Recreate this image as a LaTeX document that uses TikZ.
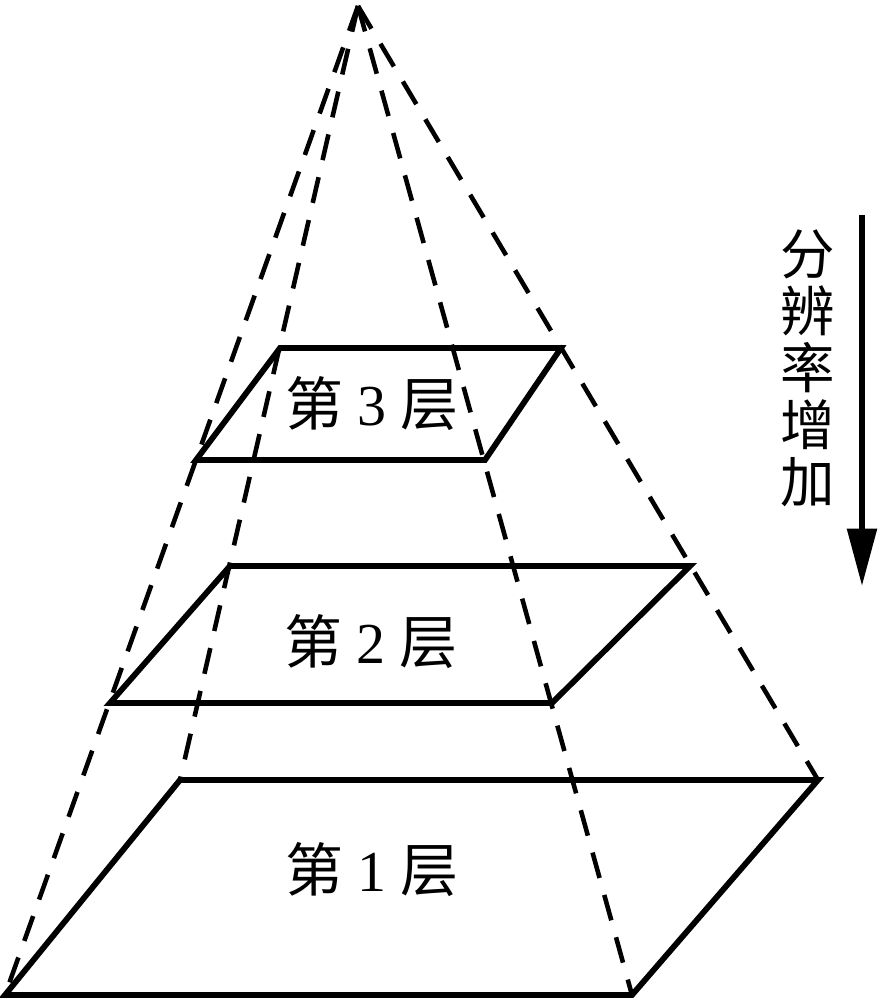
\documentclass[tikz,border=0pt]{standalone}
\usepackage{fontspec}
\setmainfont{Liberation Serif}
\newfontfamily\cjk{Noto Sans CJK SC}
\usetikzlibrary{arrows.meta}
\begin{document}
\begin{tikzpicture}[x=0.02cm,y=-0.02cm,
  solidedge/.style={line width=3.3pt, line join=miter},
  hidden/.style={line width=2.6pt, dash pattern=on 15pt off 10pt},
  lbl/.style={font=\fontsize{33}{38}\selectfont, inner sep=0pt},
  vlbl/.style={font=\cjk\fontsize{31}{32.4}\selectfont, align=center, inner sep=0pt}]
\useasboundingbox (0,0) rectangle (881,1001);
% apex and base
\coordinate (A) at (358,6);
\coordinate (BL) at (5,995);
\coordinate (BR) at (632,995);
\coordinate (TR) at (818,780);
\coordinate (TL) at (180,780);
% hidden edges
\draw[hidden] (A) -- (BL);
\draw[hidden] (A) -- (TL);
\draw[hidden] (A) -- (BR);
\draw[hidden] (A) -- (TR);
% layer 3
\coordinate (L3a) at (280,348);
\coordinate (L3b) at (561,348);
\coordinate (L3c) at (485,460);
\coordinate (L3d) at (196,460);
\draw[solidedge] (L3a) -- (L3b) -- (L3c) -- (L3d) -- cycle;
% layer 2
\coordinate (L2a) at (230,566);
\coordinate (L2b) at (690,566);
\coordinate (L2c) at (552,703);
\coordinate (L2d) at (110,703);
\draw[solidedge] (L2a) -- (L2b) -- (L2c) -- (L2d) -- cycle;
% layer 1
\draw[solidedge] (TL) -- (TR) -- (BR) -- (BL) -- cycle;
% labels
\node[lbl] (t3) at (372,404) {{\cjk 第} 3 {\cjk 层}};
\node[lbl] (t2) at (371,642) {{\cjk 第} 2 {\cjk 层}};
\node[lbl] (t1) at (372,870) {{\cjk 第} 1 {\cjk 层}};
% resolution arrow
\node[vlbl] (v) at (808,368) {分\\辨\\率\\增\\加};
\coordinate (r1) at (862,215);
\coordinate (r2) at (862,586);
\draw[line width=3.3pt, -{Triangle[length=1.15cm,width=0.58cm]}] (r1) -- (r2);
\end{tikzpicture}
\end{document}
